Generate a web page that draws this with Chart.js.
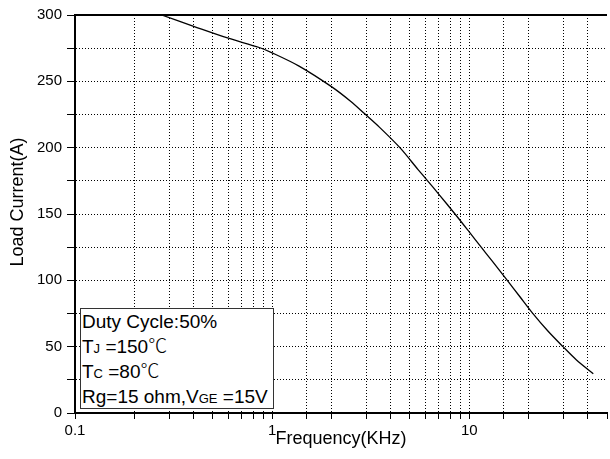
<!DOCTYPE html>
<html>
<head>
<meta charset="utf-8">
<script src="https://cdn.jsdelivr.net/npm/chart.js@4/dist/chart.umd.min.js"></script>
<style>
  body { margin:0; background:#fff; }
  #wrap { position:relative; width:610px; height:459px; }
  #note {
    position:absolute; left:80px; top:308px; width:194px; height:101px;
    box-sizing:border-box; border:1px solid #333; background:#fff;
    font-family:"Liberation Sans", Arial, sans-serif; font-size:19px;
    color:#000; padding-left:1px; white-space:nowrap; overflow:hidden;
  }
  #note div { height:25px; line-height:25px; }
  #note small { font-size:13px; line-height:0; }
  #note .deg { font-family:"Noto Sans CJK SC", sans-serif; font-weight:300; line-height:0; }
</style>
</head>
<body>
<div id="wrap">
  <canvas id="myChart" width="610" height="459"></canvas>
  <div id="note">
    <div>Duty Cycle:50%</div>
    <div>T<small>J</small> =150<span class="deg">℃</span></div>
    <div>T<small>C</small> =80<span class="deg">℃</span></div>
    <div>Rg=15 ohm,V<small>GE</small> =15V</div>
  </div>
</div>
<script>
// curve (KHz, A)
const freq = [0.275, 0.4, 0.6, 0.86, 1, 1.37, 2, 2.5, 2.95, 3.5, 4.45, 5.5, 6.15, 7, 8.47, 10, 11.5, 13, 15.6, 18, 20.9, 25, 29.9, 35, 42.6];
const load = [300, 291.5, 282.5, 275.5, 271.5, 261.5, 246, 235, 225.5, 215.5, 200, 183.5, 175, 165, 150, 136.5, 125, 115, 100, 88, 75.5, 62, 50, 40, 29.6];
const xLabels = [0.1, 1, 10];
const yLabels = [0, 50, 100, 150, 200, 250, 300];
const yTitle = 'Load Current(A)';

const fontName = '"Liberation Sans", Arial, sans-serif';

const frame = {
  id: 'frame',
  afterDraw(chart) {
    const {ctx, chartArea} = chart;
    ctx.save();
    ctx.strokeStyle = '#000';
    ctx.lineWidth = 2;
    ctx.beginPath();
    ctx.moveTo(chartArea.left, chartArea.top);
    ctx.lineTo(chartArea.right, chartArea.top);
    ctx.stroke();
    // y axis title, sits a bit above the middle like the original
    ctx.translate(18, 202);
    ctx.rotate(-Math.PI / 2);
    ctx.fillStyle = '#000';
    ctx.font = '18px ' + fontName;
    ctx.textAlign = 'center';
    ctx.textBaseline = 'middle';
    ctx.fillText(yTitle, 0, 0);
    ctx.restore();
  }
};

let mychart = document.getElementById('myChart').getContext('2d');
let chart = new Chart(mychart, {
  type: 'line',
  data: {
    datasets: [{
      label: 'load current',
      data: freq.map((f, i) => ({x: f, y: load[i]})),
      borderColor: '#000',
      borderWidth: 1.3,
      pointRadius: 0,
      fill: false,
      tension: 0.3
    }]
  },
  options: {
    responsive: false,
    animation: false,
    layout: { padding: { top: 15, right: 1, bottom: 9, left: 0 } },
    plugins: { legend: { display: false }, tooltip: { enabled: false } },
    scales: {
      x: {
        type: 'logarithmic',
        min: 0.1,
        max: 50,
        afterFit: s => { s.height = 37; },
        grid: {
          color: c => (c.tick && (c.tick.value >= 50 || c.tick.value <= 0.1)) ? 'rgba(0,0,0,0)' : '#000',
          lineWidth: 1,
          tickLength: 6,
          tickColor: '#000',
          tickWidth: 1
        },
        border: { color: '#000', width: 2, dash: [1, 2] },
        ticks: {
          autoSkip: false,
          maxRotation: 0,
          padding: 3,
          color: '#000',
          font: { family: fontName, size: 15 },
          callback: v => xLabels.some(t => Math.abs(t - v) < 1e-9) ? String(v) : ''
        },
        title: {
          display: true,
          text: 'Frequency(KHz)',
          color: '#000',
          font: { family: fontName, size: 18 },
          padding: { top: 0, bottom: 0 }
        }
      },
      y: {
        min: 0,
        max: 300,
        afterFit: s => { s.width = 75; },
        grid: {
          color: c => (c.tick && (c.tick.value === 0 || c.tick.value === 300)) ? 'rgba(0,0,0,0)' : '#000',
          lineWidth: 1,
          tickLength: 8,
          tickColor: '#000',
          tickWidth: 1
        },
        border: { color: '#000', width: 2, dash: [1, 2] },
        ticks: {
          stepSize: 25,
          padding: 5,
          color: '#000',
          font: { family: fontName, size: 15 },
          callback: v => yLabels.includes(v) ? String(v) : ''
        },
        title: { display: false }
      }
    }
  },
  plugins: [frame]
});
</script>
</body>
</html>
